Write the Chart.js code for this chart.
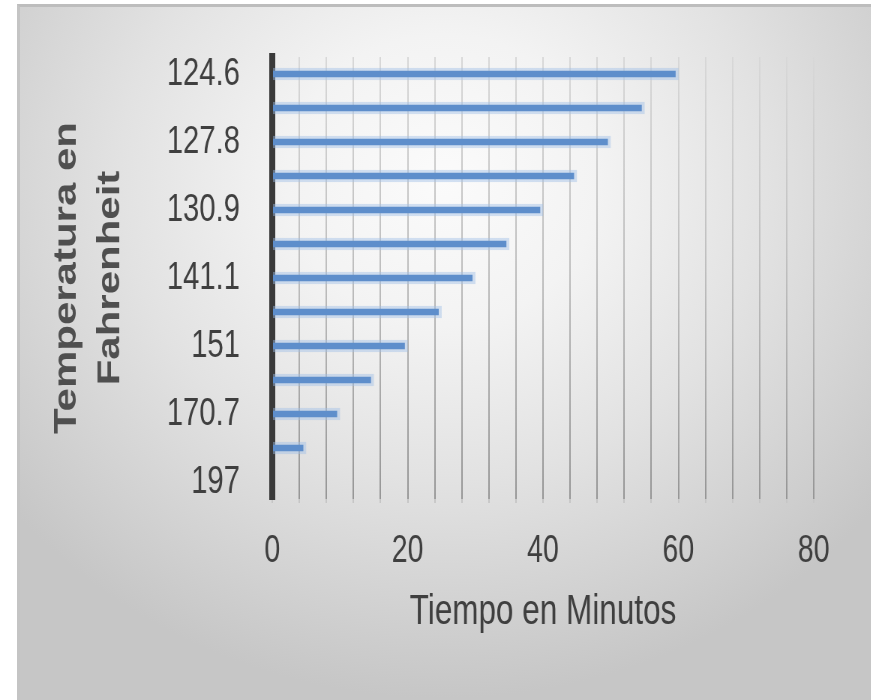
<!DOCTYPE html>
<html>
<head>
<meta charset="utf-8">
<script src="https://cdn.jsdelivr.net/npm/chart.js@4.4.1/dist/chart.umd.min.js"></script>
<style>
  html, body { margin: 0; padding: 0; background: #ffffff; overflow: hidden; }
  #page { position: relative; width: 871px; height: 700px; overflow: hidden; }
  #frame {
    position: absolute; left: 17px; top: 4px; width: 900px; height: 720px;
    border-top: 3px solid #bdbdbd; border-left: 3px solid #c4c4c4;
    background: radial-gradient(ellipse 62% 72% at 47% 24%, #fbfbfb 0%, #f3f3f3 28%, #e2e2e2 58%, #d0d0d0 85%, #c6c6c6 100%);
  }
  /* the chart is laid out wide and squeezed horizontally, giving the condensed lettering */
  #c { position: absolute; left: 0; top: 0; transform: scaleX(0.75); transform-origin: 0 0; }
</style>
</head>
<body>
<div id="page">
  <div id="frame"></div>
  <canvas id="c" width="1162" height="700"></canvas>
</div>
<script>
const temperatures = ['124.6', '126.2', '127.8', '129.3', '130.9', '135.5', '141.1', '145.6', '151', '160.2', '170.7', '183.4', '197'];
const minutes = [60, 55, 50, 45, 40, 35, 30, 25, 20, 15, 10, 5, 0];
const timeTicks = [0, 20, 40, 60, 80];

const FONT = "'Liberation Sans', Arial, sans-serif";

let gridGradient = null;
function gridColor(ctx) {
  const chart = ctx.chart;
  const area = chart.chartArea;
  if (!area) return '#bbbbbb';
  if (!gridGradient) {
    gridGradient = chart.ctx.createLinearGradient(0, area.top, 0, area.bottom);
    gridGradient.addColorStop(0, '#d8d8d8');
    gridGradient.addColorStop(0.5, '#bdbdbd');
    gridGradient.addColorStop(1, '#969696');
  }
  return gridGradient;
}

new Chart(document.getElementById('c'), {
  type: 'bar',
  data: {
    labels: temperatures,
    datasets: [{
      data: minutes,
      backgroundColor: '#5e8ecb',
      borderColor: 'rgba(160,190,230,0.45)',
      borderWidth: { top: 3, bottom: 3, right: 4, left: 0 },
      borderSkipped: false,
      barThickness: 12
    }]
  },
  options: {
    indexAxis: 'y',
    responsive: false,
    animation: false,
    devicePixelRatio: 1,
    layout: { padding: { top: 57, right: 77, bottom: 62, left: 0 } },
    plugins: { legend: { display: false }, tooltip: { enabled: false } },
    scales: {
      x: {
        min: 0,
        max: 80,
        ticks: {
          stepSize: 4,
          autoSkip: false,
          maxRotation: 0,
          padding: 26,
          color: '#3f3f3f',
          font: { family: FONT, size: 38 },
          callback: (v) => timeTicks.includes(v) ? String(v) : ''
        },
        grid: {
          color: gridColor,
          lineWidth: 2,
          tickLength: 4,
          tickColor: '#c6c6c6'
        },
        border: { display: false },
        title: {
          display: true,
          text: 'Tiempo en Minutos',
          color: '#3f3f3f',
          font: { family: FONT, size: 42 },
          padding: { top: 0, bottom: 0 }
        },
        afterFit: (s) => { s.height = 139; }
      },
      y: {
        z: 1,
        ticks: {
          autoSkip: false,
          padding: 43,
          color: '#3f3f3f',
          font: { family: FONT, size: 39 },
          callback: function (v, i) { return i % 2 === 0 ? this.getLabelForValue(v) : ''; }
        },
        grid: { display: false, drawTicks: false },
        border: { display: true, color: '#3a3a3a', width: 8 },
        title: {
          display: true,
          text: ['Temperatura en', 'Fahrenheit'],
          color: '#4f4f4f',
          font: { family: FONT, size: 42, weight: 'bold', lineHeight: 1.38 },
          padding: { top: 60, bottom: 0 }
        },
        afterFit: (s) => { s.width = 363; s.paddingTop = 0; s.paddingBottom = 0; }
      }
    }
  }
});
</script>
</body>
</html>
